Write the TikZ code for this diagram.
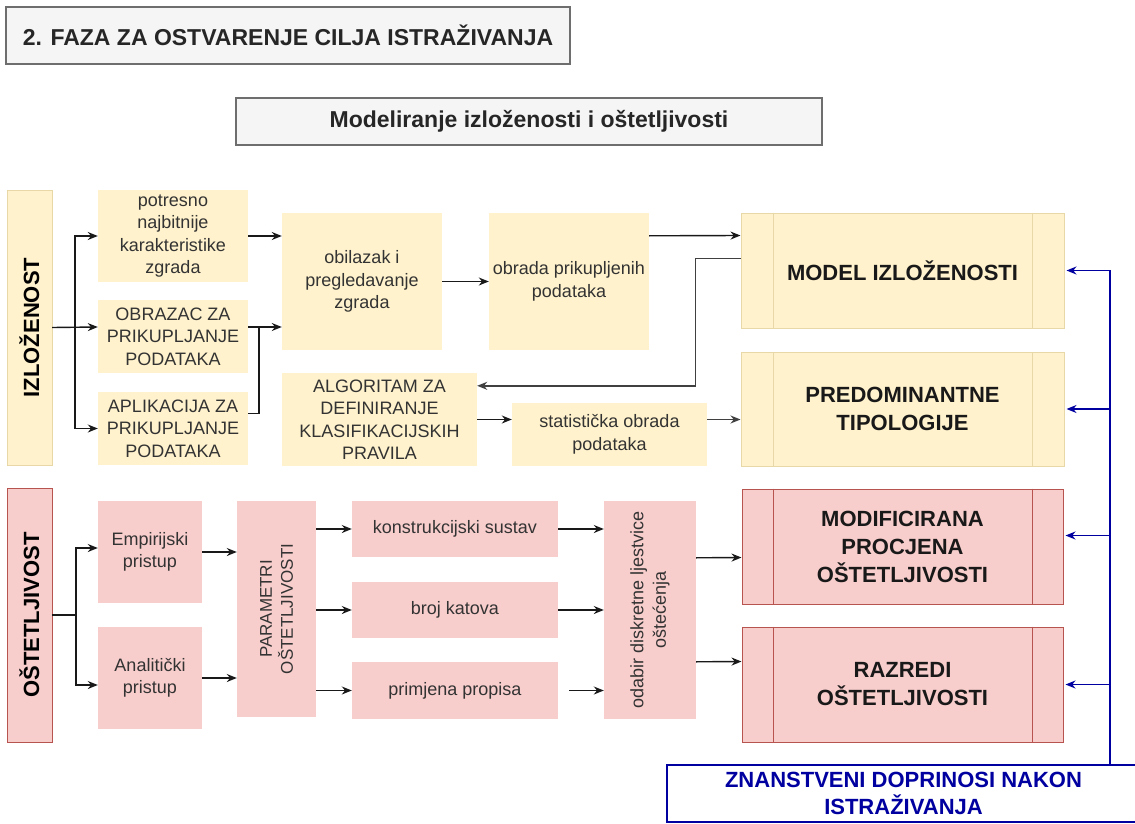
\documentclass[tikz,border=0pt]{standalone}
\usepackage{fontspec}
\setmainfont{Liberation Sans}
\usetikzlibrary{arrows.meta, positioning, calc}
\definecolor{izl-fill}{HTML}{FFF2CC}
\definecolor{izl-line}{HTML}{E8D8A8}
\definecolor{ost-fill}{HTML}{F8CECC}
\definecolor{ost-line}{HTML}{B85450}
\definecolor{head-fill}{HTML}{F5F5F5}
\definecolor{head-line}{HTML}{6E6E6E}
\definecolor{doc-blue}{HTML}{0000A0}
\definecolor{txt-gray}{HTML}{333333}
\tikzset{
  box/.style={inner sep=0pt, align=center, text=txt-gray, font=\fontsize{18}{22.5}\selectfont},
  ybox/.style={box, fill=izl-fill},
  pbox/.style={box, fill=ost-fill},
  result/.style={inner sep=0pt, align=center, text=black!90, line width=1pt, font=\bfseries\fontsize{22}{28}\selectfont, minimum width=323pt, minimum height=115pt},
  head/.style={inner sep=0pt, fill=head-fill, draw=head-line, line width=1.2pt, text=black!85},
  arr/.style={-{Stealth[length=10pt,width=8pt]}, line width=1.4pt, black!90},
  barr/.style={-{Stealth[length=10pt,width=8pt]}, line width=1.4pt, doc-blue},
}

\begin{document}
\begin{tikzpicture}[x=1pt, y=-1pt]
\useasboundingbox[fill=white] (0,0) rectangle (1135,824);

\node[head, minimum width=564pt, minimum height=57pt, font=\bfseries\fontsize{23}{27}\selectfont] at (288,35.5) (faza) {2. FAZA ZA OSTVARENJE CILJA ISTRAŽIVANJA};
\node[head, minimum width=586pt, minimum height=47pt, font=\bfseries\fontsize{23}{27}\selectfont] at (529,121.5) (modeliranje) {Modeliranje izloženosti i oštetljivosti};

\node[ybox, draw=izl-line, rotate=90, minimum width=275pt, minimum height=45pt, text=black, font=\bfseries\fontsize{22}{26}\selectfont] at (29.5,327.5) (izl) {IZLOŽENOST};
\node[ybox, minimum width=150pt, minimum height=92pt] at (173,236) (potresno) {potresno\\najbitnije\\karakteristike\\zgrada};
\node[ybox, minimum width=150pt, minimum height=73pt] at (173,336.5) (obrazac) {OBRAZAC ZA\\PRIKUPLJANJE\\PODATAKA};
\node[ybox, minimum width=150pt, minimum height=73pt] at (173,428.5) (aplikacija) {APLIKACIJA ZA\\PRIKUPLJANJE\\PODATAKA};
\node[ybox, minimum width=160pt, minimum height=137pt] at (362,281.5) (obilazak) {obilazak i\\pregledavanje\\zgrada};
\node[ybox, minimum width=160pt, minimum height=137pt] at (569,281.5) (obrada) {obrada prikupljenih\\podataka};
\node[ybox, minimum width=195pt, minimum height=93pt] at (379.5,419.5) (algoritam) {ALGORITAM ZA\\DEFINIRANJE\\KLASIFIKACIJSKIH\\PRAVILA};
\node[ybox, minimum width=195pt, minimum height=63pt] at (609.5,434.5) (statisticka) {statistička obrada\\podataka};
\node[result, fill=izl-fill, draw=izl-line] at (902.5,270.5) (model) {MODEL IZLOŽENOSTI};
\node[result, fill=izl-fill, draw=izl-line, minimum height=114pt] at (902.5,409) (predom) {PREDOMINANTNE\\TIPOLOGIJE};

\node[pbox, draw=ost-line, rotate=90, minimum width=254pt, minimum height=45pt, text=black, font=\bfseries\fontsize{22}{26}\selectfont] at (29.5,615) (ost) {OŠTETLJIVOST};
\node[pbox, minimum width=104pt, minimum height=102pt] at (150,552) (empir) {Empirijski\\pristup};
\node[pbox, minimum width=104pt, minimum height=102pt] at (150,678) (analit) {Analitički\\pristup};
\node[pbox, rotate=90, minimum width=216pt, minimum height=79pt, font=\fontsize{17}{21}\selectfont] at (276.5,609) (param) {PARAMETRI\\OŠTETLJIVOSTI};
\node[pbox, minimum width=206pt, minimum height=56pt] at (455,529) (konstr) {konstrukcijski sustav};
\node[pbox, minimum width=206pt, minimum height=56pt] at (455,610) (broj) {broj katova};
\node[pbox, minimum width=206pt, minimum height=57pt] at (455,690.5) (primj) {primjena propisa};
\node[pbox, rotate=90, minimum width=218pt, minimum height=92pt] at (650,610) (odabir) {odabir diskretne ljestvice\\oštećenja};
\node[result, fill=ost-fill, draw=ost-line, minimum width=321pt] at (902.5,546.5) (modif) {MODIFICIRANA\\PROCJENA\\OŠTETLJIVOSTI};
\node[result, fill=ost-fill, draw=ost-line, minimum width=321pt] at (902.5,684.5) (razredi) {RAZREDI\\OŠTETLJIVOSTI};

\node[draw=doc-blue, fill=white, line width=1.5pt, inner sep=0pt, align=center, text=doc-blue, minimum width=473pt, minimum height=57pt, font=\bfseries\fontsize{22}{27}\selectfont] at (903.5,793.5) (znan) {ZNANSTVENI DOPRINOSI NAKON\\ISTRAŽIVANJA};

\draw[izl-line, line width=1pt] ([xshift=33pt]model.north west) -- ([xshift=33pt]model.south west);
\draw[izl-line, line width=1pt] ([xshift=-32pt]model.north east) -- ([xshift=-32pt]model.south east);
\draw[izl-line, line width=1pt] ([xshift=33pt]predom.north west) -- ([xshift=33pt]predom.south west);
\draw[izl-line, line width=1pt] ([xshift=-32pt]predom.north east) -- ([xshift=-32pt]predom.south east);
\draw[ost-line, line width=1pt] ([xshift=32pt]modif.north west) -- ([xshift=32pt]modif.south west);
\draw[ost-line, line width=1pt] ([xshift=-31pt]modif.north east) -- ([xshift=-31pt]modif.south east);
\draw[ost-line, line width=1pt] ([xshift=32pt]razredi.north west) -- ([xshift=32pt]razredi.south west);
\draw[ost-line, line width=1pt] ([xshift=-31pt]razredi.north east) -- ([xshift=-31pt]razredi.south east);

\coordinate (s1) at (75,327);
\coordinate (j1) at (259,327);
\draw[arr] (izl.south) -- (obrazac.west |- s1);
\draw[arr] (s1) |- (potresno.west);
\draw[arr] (s1) |- (aplikacija.west);
\draw[arr] (potresno.east) -- (obilazak.west |- potresno.east);
\draw[arr] (obrazac.east |- s1) -- (obilazak.west |- s1);
\draw[line width=1.4pt, black!90] ([yshift=15pt]aplikacija.east) -| (j1);
\draw[arr] (obilazak) -- (obrada);
\draw[arr] ([yshift=-23pt]obrada.north east) -- ([yshift=-23pt]model.north west);
\draw[arr, black!75] ([yshift=-46pt]model.north west) -- ++(-45,0) |- ([yshift=-13pt]algoritam.north east);
\draw[arr] (algoritam) -- (statisticka.west |- algoritam);
\draw[arr, black!75] (statisticka.east |- algoritam) -- (predom.west |- algoritam);

\coordinate (s2) at (76,615);
\draw[line width=1.4pt, black!90] (ost.south) -- (s2);
\draw[arr] (s2) |- ([yshift=4pt]empir.west);
\draw[arr] (s2) |- ([yshift=-7pt]analit.west);
\draw[arr] (empir) -- (param.north |- empir);
\draw[arr] (analit) -- (param.north |- analit);
\draw[arr] (param.south |- konstr) -- (konstr);
\draw[arr] (param.south |- broj) -- (broj);
\draw[arr] (param.south |- primj) -- (primj);
\draw[arr] (konstr) -- (odabir.north |- konstr);
\draw[arr] (broj) -- (odabir.north |- broj);
\draw[arr] ([xshift=11pt]primj.east) -- (odabir.north |- primj);
\draw[arr] ([yshift=-57pt]odabir.south east) -- ([yshift=-69pt]modif.north west);
\draw[arr] ([yshift=-161pt]odabir.south east) -- ([yshift=-35pt]razredi.north west);

\coordinate (bus) at (1110,0);
\draw[barr, shorten >=2pt] (znan.north -| bus) |- (model.east);
\draw[barr, shorten >=2pt] (bus |- predom.east) -- (predom.east);
\draw[barr, shorten >=2pt] (bus |- modif.east) ++(0,-11) -- ([yshift=11pt]modif.east);
\draw[barr, shorten >=2pt] (bus |- razredi.east) -- (razredi.east);
\end{tikzpicture}
\end{document}
